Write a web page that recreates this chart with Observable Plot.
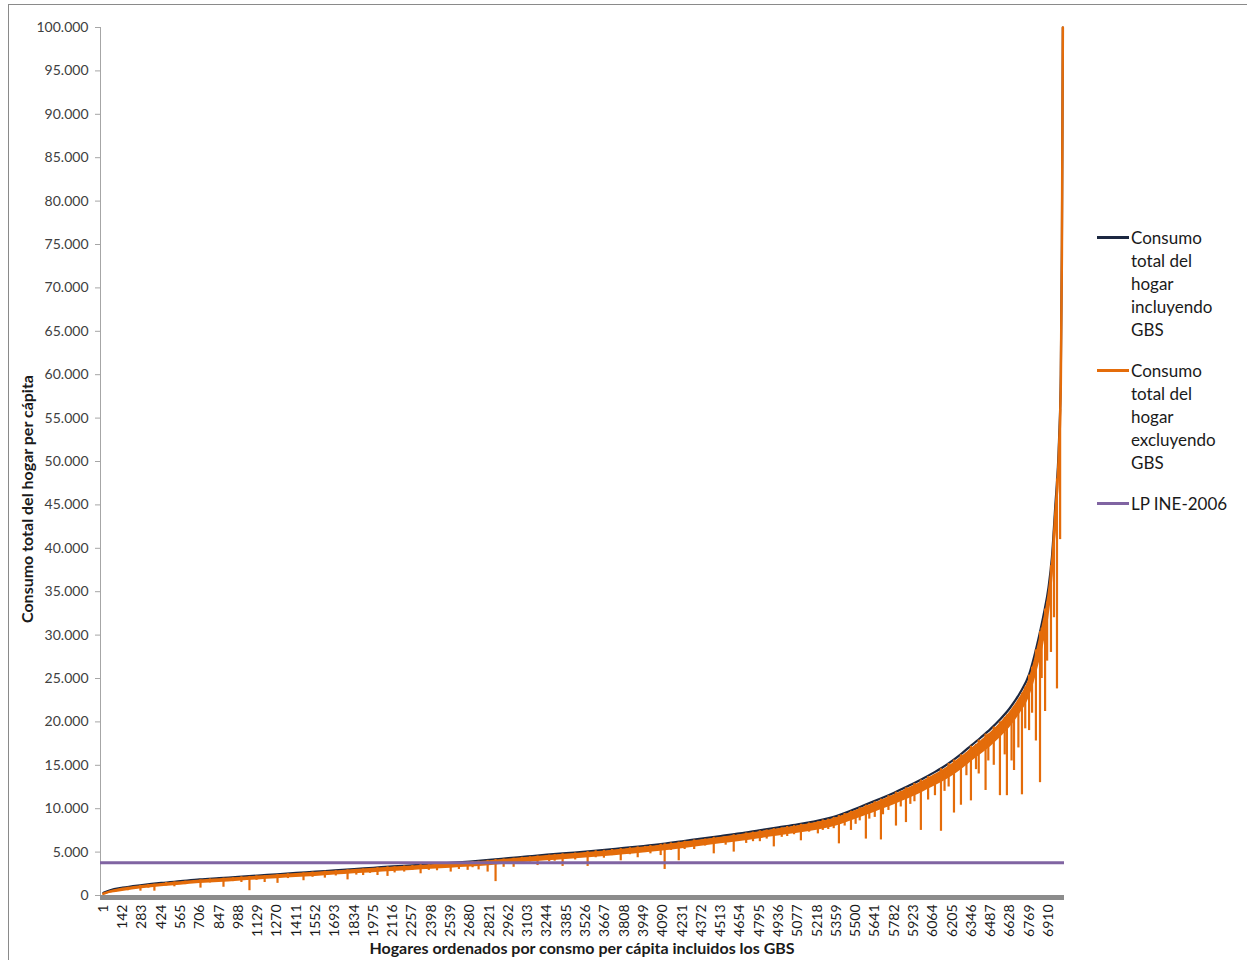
<!DOCTYPE html>
<html><head><meta charset="utf-8">
<script src="https://cdn.jsdelivr.net/npm/d3@7"></script>
<script src="https://cdn.jsdelivr.net/npm/@observablehq/plot@0.6"></script>
<style>
html,body{margin:0;padding:0;background:#fff;overflow:hidden;}
#wrap{position:relative;width:1247px;height:960px;font-family:Lato,"Open Sans",sans-serif;overflow:hidden;}
#marco{position:absolute;left:8px;top:4px;width:1300px;height:1000px;border:1px solid #8a8a8a;}
#chart{position:absolute;left:0;top:0;}
.leg{position:absolute;left:1097px;display:flex;align-items:flex-start;font-size:17px;line-height:23px;color:#1a1a1a;}
.sw{width:32px;margin-top:10px;}
.lt{width:104px;margin-left:2px;}
.tit{position:absolute;font-weight:bold;font-size:16px;color:#1a1a1a;white-space:nowrap;line-height:18px;}
#tx{left:582px;top:948px;transform:translate(-50%,-50%);}
#ty{left:27px;top:499px;transform:translate(-50%,-50%) rotate(-90deg);}
</style></head><body>
<div id="wrap"><div id="marco"></div><div id="chart"></div><div id="legend"></div>
<div id="tx" class="tit"></div><div id="ty" class="tit"></div></div>
<script>
// Hogares (posición en el orden) donde se leyeron los valores
const hogar = [1, 50, 142, 283, 424, 565, 706, 847, 988, 1129, 1270, 1411, 1552, 1693, 1834, 1975, 2116, 2257, 2398, 2539, 2680, 2821, 2962, 3103, 3244, 3385, 3526, 3667, 3808, 3949, 4090, 4231, 4372, 4513, 4654, 4795, 4936, 5077, 5150, 5218, 5290, 5359, 5430, 5500, 5570, 5641, 5710, 5782, 5850, 5923, 5990, 6064, 6135, 6205, 6275, 6346, 6415, 6487, 6557, 6628, 6700, 6769, 6805, 6840, 6875, 6910, 6935, 6958, 6987, 7000, 7008, 7015];
// Consumo total del hogar incluyendo GBS
const conGBS = [300, 600, 900, 1200, 1450, 1650, 1850, 2000, 2150, 2300, 2450, 2600, 2750, 2900, 3050, 3200, 3350, 3480, 3620, 3760, 3920, 4100, 4300, 4500, 4700, 4880, 5050, 5250, 5480, 5700, 5950, 6250, 6550, 6850, 7150, 7500, 7850, 8200, 8400, 8600, 8850, 9150, 9550, 10000, 10450, 10900, 11350, 11850, 12350, 12900, 13450, 14100, 14750, 15500, 16350, 17300, 18200, 19200, 20300, 21600, 23300, 25500, 27500, 29800, 32400, 35500, 39000, 44500, 52500, 60000, 75000, 100000];
// Consumo total del hogar excluyendo GBS (borde superior)
const sinGBS = [200, 470, 770, 1070, 1310, 1510, 1700, 1850, 2000, 2150, 2300, 2450, 2600, 2750, 2900, 3050, 3190, 3320, 3460, 3600, 3750, 3920, 4120, 4320, 4510, 4690, 4860, 5050, 5280, 5500, 5740, 6040, 6330, 6630, 6920, 7270, 7610, 7950, 8150, 8350, 8590, 8880, 9270, 9710, 10150, 10600, 11040, 11530, 12020, 12560, 13100, 13740, 14370, 15100, 15930, 16850, 17730, 18700, 19780, 21050, 22700, 24800, 26700, 29000, 31500, 34500, 38000, 43500, 51500, 59000, 74000, 100000];
// Consumo excluyendo GBS (borde inferior de la banda densa de valores)
const sinGBSmin = [100, 250, 470, 770, 1010, 1190, 1370, 1500, 1650, 1800, 1930, 2070, 2200, 2350, 2500, 2630, 2760, 2880, 3010, 3150, 3280, 3440, 3620, 3820, 3990, 4160, 4310, 4490, 4700, 4900, 5120, 5400, 5670, 5950, 6220, 6550, 6860, 7170, 7350, 7530, 7740, 8000, 8370, 8780, 9190, 9600, 10010, 10460, 10920, 11410, 11900, 12490, 13070, 13750, 14530, 15400, 16230, 17150, 18180, 19350, 20900, 22800, 24500, 26600, 28900, 31700, 35000, 40000, 47500, 55000, 70000, 97000];
// Picos grandes hacia abajo de la serie excluyendo GBS
const picoHogar = [272, 374, 520, 711, 879, 1069, 1180, 1274, 1464, 1620, 1786, 1900, 2005, 2078, 2200, 2320, 2440, 2540, 2664, 2744, 2810, 2868, 2927, 3000, 3175, 3260, 3358, 3450, 3541, 3660, 3783, 3907, 4000, 4075, 4104, 4207, 4320, 4463, 4609, 4700, 4800, 4902, 5000, 5100, 5160, 5224, 5300, 5378, 5420, 5466, 5530, 5575, 5640, 5685, 5740, 5795, 5868, 5930, 5977, 6030, 6124, 6180, 6219, 6270, 6343, 6400, 6450, 6510, 6555, 6606, 6658, 6716, 6768, 6818, 6848, 6885, 6928, 6972, 6995];
const picoBase = [1150, 1300, 1550, 1800, 2000, 2200, 2300, 2400, 2600, 2800, 2950, 3050, 3200, 3300, 3400, 3550, 3650, 3700, 3850, 3950, 4050, 4150, 4200, 4300, 4550, 4650, 4800, 4900, 5050, 5200, 5400, 5600, 5750, 5900, 5950, 6150, 6400, 6700, 7000, 7200, 7450, 7700, 7950, 8200, 8350, 8500, 8800, 9200, 9450, 9700, 10100, 10400, 10800, 11100, 11500, 11900, 12400, 12900, 13300, 13700, 14600, 15200, 15600, 16200, 17200, 17900, 18600, 19400, 20000, 20800, 21800, 23300, 25400, 28300, 30400, 33000, 38000, 48000, 56000];
const picoFondo = [500, 500, 1000, 850, 950, 550, 1500, 1400, 1700, 2000, 1800, 2300, 2300, 2200, 2700, 2500, 2850, 2700, 2900, 2950, 2700, 1600, 3250, 3250, 3450, 3900, 3350, 4100, 3350, 4300, 4000, 4350, 4800, 4600, 3000, 4000, 5300, 4800, 5000, 6000, 6200, 5600, 6800, 6300, 7300, 7100, 7600, 5950, 8000, 7500, 8600, 6500, 9000, 6400, 9800, 8000, 8400, 10800, 7500, 11000, 7400, 12500, 9500, 10400, 10900, 14000, 12100, 15000, 11500, 11500, 14400, 11600, 19000, 17800, 13000, 21200, 28000, 23800, 41000];
// Dientes pequeños de la misma serie
const dienteHogar = [180, 330, 460, 600, 780, 950, 1010, 1120, 1350, 1530, 1700, 1850, 1950, 2130, 2260, 2380, 2600, 2700, 3060, 3120, 3300, 3600, 3720, 3850, 3960, 4150, 4250, 4400, 4550, 4750, 4850, 4960, 5050, 5260, 5340, 5500, 5600, 5700, 5830, 5900, 6080, 6150, 6310, 6380, 6470, 6590, 6640, 6690, 6740, 6790, 6860, 6900, 6950];
const dienteBase = [950, 1250, 1500, 1650, 1900, 2050, 2150, 2250, 2500, 2700, 2850, 3000, 3100, 3300, 3450, 3550, 3800, 3900, 4400, 4450, 4700, 5150, 5300, 5500, 5650, 6050, 6250, 6500, 6800, 7300, 7550, 7800, 8050, 8700, 9000, 9700, 10300, 11000, 12000, 12400, 13900, 14500, 16400, 17400, 18600, 20500, 21200, 22400, 24000, 26300, 30800, 33800, 42000];
const dienteFondo = [550, 850, 1100, 1250, 1450, 1600, 1500, 1750, 1950, 2100, 2250, 2350, 2550, 2600, 2900, 2900, 3000, 3200, 3700, 3850, 3950, 4350, 4600, 4700, 4950, 5200, 5300, 5700, 5800, 6200, 6500, 6700, 7000, 7500, 7700, 8200, 8800, 9300, 10200, 10500, 11500, 12000, 13800, 14500, 15500, 16200, 15500, 17000, 19200, 21000, 25000, 27000, 32000];
// LP INE-2006
const lineaPobreza = 3780;
const xTicks = [1, 142, 283, 424, 565, 706, 847, 988, 1129, 1270, 1411, 1552, 1693, 1834, 1975, 2116, 2257, 2398, 2539, 2680, 2821, 2962, 3103, 3244, 3385, 3526, 3667, 3808, 3949, 4090, 4231, 4372, 4513, 4654, 4795, 4936, 5077, 5218, 5359, 5500, 5641, 5782, 5923, 6064, 6205, 6346, 6487, 6628, 6769, 6910];
const yTicks = [0, 5000, 10000, 15000, 20000, 25000, 30000, 35000, 40000, 45000, 50000, 55000, 60000, 65000, 70000, 75000, 80000, 85000, 90000, 95000, 100000];
const tituloX = "Hogares ordenados por consmo per cápita incluidos los GBS";
const tituloY = "Consumo total del hogar per cápita";
const nombresSerie = ["Consumo total del hogar incluyendo GBS", "Consumo total del hogar excluyendo GBS", "LP INE-2006"];
const coloresSerie = ["#1c2841", "#e46c0a", "#8064a2"];

const fmt = d3.formatLocale({decimal: ",", thousands: ".", grouping: [3], currency: ["", ""]}).format(",");
const serie = hogar.map((h, i) => ({hogar: h, con: conGBS[i], sin: sinGBS[i], min: sinGBSmin[i]}));
const picos = picoHogar.map((h, i) => ({hogar: h, base: picoBase[i], fondo: picoFondo[i]}))
  .concat(dienteHogar.map((h, i) => ({hogar: h, base: dienteBase[i], fondo: dienteFondo[i]})));
const x0 = -20;

const chart = Plot.plot({
  width: 1247, height: 960,
  marginLeft: 100, marginRight: 183, marginTop: 27, marginBottom: 65,
  style: {fontFamily: "Lato, 'Open Sans', sans-serif", background: "transparent"},
  x: {domain: [x0, 7027]},
  y: {domain: [0, 100000]},
  marks: [
    Plot.ruleX([x0], {stroke: "#a6a6a6"}),
    Plot.axisY({ticks: yTicks, tickFormat: fmt, tickSize: 5, tickPadding: 7, fontSize: 14, stroke: "#a6a6a6", fill: "#404040", label: null}),
    Plot.axisX({ticks: xTicks, tickFormat: d => String(d), tickRotate: -90, tickSize: 0, tickPadding: 9, fontSize: 14, fill: "#1a1a1a", label: null}),
    Plot.line(serie, {x: "hogar", y: "con", stroke: coloresSerie[0], strokeWidth: 2.2, curve: "monotone-x"}),
    Plot.areaY(serie, {x: "hogar", y1: "min", y2: "sin", fill: coloresSerie[1], curve: "monotone-x"}),
    Plot.line(serie, {x: "hogar", y: "sin", stroke: coloresSerie[1], strokeWidth: 2.5, curve: "monotone-x"}),
    Plot.ruleX(picos, {x: "hogar", y1: "base", y2: "fondo", stroke: coloresSerie[1], strokeWidth: 2.2}),
    Plot.ruleY([lineaPobreza], {stroke: coloresSerie[2], strokeWidth: 3}),
    Plot.ruleY([0], {stroke: "#8c8c8c", strokeWidth: 5, dy: 2})
  ]
});
document.getElementById("chart").appendChild(chart);
document.getElementById("tx").textContent = tituloX;
document.getElementById("ty").textContent = tituloY;

const tops = [225.5, 358.5, 491.5];
const leg = document.getElementById("legend");
nombresSerie.forEach((n, i) => {
  const d = document.createElement("div");
  d.className = "leg";
  d.style.top = tops[i] + "px";
  const sw = document.createElement("div");
  sw.className = "sw";
  sw.style.height = (i === 0 ? 3.5 : 3) + "px";
  sw.style.background = coloresSerie[i];
  const t = document.createElement("div");
  t.className = "lt";
  t.textContent = n;
  d.appendChild(sw); d.appendChild(t);
  leg.appendChild(d);
});
</script>
</body></html>
